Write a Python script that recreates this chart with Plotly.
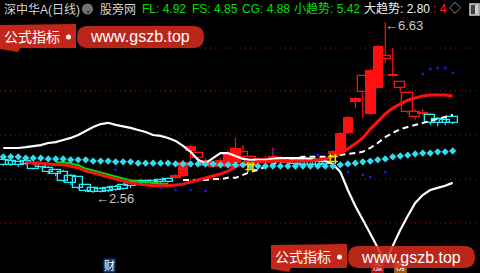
import plotly.graph_objects as go

W, H = 480, 273
FONT = "Liberation Sans, Noto Sans CJK SC, sans-serif"

# ---------------- data ----------------
bars = list(range(61))
opens = [3.35, 3.32, 3.30, 3.32, 3.27, 3.25, 3.16, 3.11, 3.06, 2.96, 2.94, 2.75, 2.68, 2.66, 2.68, 2.70,
         2.75, 2.82, 2.85, 2.85, 2.85, 2.87, 2.89, 2.92, 2.96, 3.56, 3.39, 3.20, 3.18, 3.23, 3.18, 3.27,
         3.42, 3.30, 3.27, 3.30, 3.35, 3.30, 3.27, 3.35, 3.35, 3.32, 3.30, 3.30, 3.49, 3.54, 3.99, 4.73,
         4.96, 4.44, 5.06, 5.75, 5.34, 5.06, 4.49, 4.37, 4.44, 4.42, 4.32, 4.30, 4.37]
highs = [3.37, 3.35, 3.32, 3.35, 3.30, 3.27, 3.20, 3.13, 3.11, 3.01, 2.96, 2.77, 2.70, 2.70, 2.73, 2.75,
         2.77, 2.85, 2.87, 2.87, 2.87, 2.89, 2.92, 3.01, 3.35, 3.70, 3.54, 3.39, 3.32, 3.39, 3.58, 3.87,
         3.70, 3.46, 3.42, 3.44, 3.65, 3.44, 3.37, 3.37, 3.39, 3.35, 3.32, 3.32, 3.58, 4.01, 4.39, 4.84,
         5.36, 5.51, 6.08, 6.63, 6.01, 5.22, 4.96, 4.56, 4.56, 4.46, 4.37, 4.34, 4.42]
lows = [3.20, 3.20, 3.18, 3.23, 3.11, 3.16, 3.01, 2.96, 2.82, 2.75, 2.66, 2.58, 2.56, 2.57, 2.58, 2.61,
        2.63, 2.68, 2.75, 2.77, 2.77, 2.80, 2.80, 2.89, 2.94, 3.35, 3.27, 3.18, 3.16, 3.20, 3.16, 3.25,
        3.35, 3.27, 3.25, 3.27, 3.30, 3.27, 3.25, 3.23, 3.20, 3.20, 3.20, 3.23, 3.44, 3.51, 3.96, 4.58,
        4.34, 4.42, 5.04, 5.65, 5.32, 4.96, 4.46, 4.30, 4.39, 4.18, 4.15, 4.18, 4.20]
closes = [3.23, 3.23, 3.23, 3.25, 3.13, 3.18, 3.06, 3.01, 2.85, 2.80, 2.68, 2.61, 2.58, 2.58, 2.61, 2.63,
          2.66, 2.73, 2.77, 2.80, 2.80, 2.82, 2.82, 2.99, 3.30, 3.68, 3.51, 3.35, 3.27, 3.35, 3.51, 3.63,
          3.54, 3.42, 3.39, 3.39, 3.44, 3.39, 3.35, 3.25, 3.23, 3.23, 3.23, 3.25, 3.56, 3.99, 4.37, 4.82,
          5.34, 5.49, 6.06, 5.82, 5.39, 5.20, 4.94, 4.49, 4.49, 4.23, 4.23, 4.23, 4.23]
# c = cyan hollow, r = red filled, h = red hollow
kinds = (["c"] * 23 + ["r", "r", "r", "h", "r", "r", "r", "r", "r", "h", "h", "r", "r", "r", "r", "r"]
         + ["c"] * 5 + ["r", "r", "r", "r", "h", "r", "r", "h", "r", "h", "h", "h", "r"] + ["c"] * 4)

red_ma = [None, None, None, 3.30, 3.27, 3.27, 3.25, 3.23, 3.23, 3.20, 3.16, 3.08, 3.04, 2.99, 2.94, 2.89,
          2.85, 2.80, 2.77, 2.75, 2.73, 2.73, 2.73, 2.75, 2.77, 2.82, 2.87, 2.92, 2.96, 3.01, 3.08, 3.18,
          3.25, 3.27, 3.30, 3.30, 3.32, 3.32, 3.32, 3.32, 3.32, 3.32, 3.35, 3.37, 3.42, 3.51, 3.61, 3.73,
          3.87, 4.08, 4.27, 4.44, 4.58, 4.68, 4.77, 4.82, 4.87, 4.89, 4.89, 4.89, 4.87]
green_ma = [None] * 7 + [3.29, 3.29, 3.26, 3.22, 3.14, 3.10, 3.05, 3.00, 2.95, 2.91, 2.86, 2.83, 2.81,
                        2.79, 2.78, 2.78] + [None] * 38
big_trend = [3.63, 3.63, 3.63, 3.65, 3.68, 3.70, 3.75, 3.77, 3.82, 3.87, 3.94, 4.04, 4.13, 4.20, 4.23, 4.18,
             4.15, 4.11, 4.06, 4.01, 3.94, 3.92, 3.87, 3.80, 3.68, 3.54, 3.35, 3.27, 3.39, 3.51, 3.51, 3.44,
             3.37, 3.35, 3.35, 3.35, 3.37, 3.39, 3.39, 3.39, 3.39, 3.37, 3.35, 3.32, 3.25, 3.06, 2.63, 2.25,
             1.92, 1.58, 1.25, 0.92, 1.30, 1.68, 2.01, 2.32, 2.51, 2.63, 2.68, 2.73, 2.80]
stair = [None] * 24 + [2.87, 2.87, 2.87, 2.87, 2.89, 2.89, 2.92, 2.92, 2.99, 3.06, 3.11, 3.18, 3.25, 3.30,
                       3.35, 3.39, 3.42, 3.42, 3.42, 3.42, 3.44, 3.46, 3.49, 3.51, 3.54, 3.63, 3.75, 3.89,
                       3.99, 4.08, 4.13, 4.18, 4.23, 4.27, 4.32, 4.37, 4.42]
diamonds = ([3.42] * 3 + [3.39] * 3 + [3.37] * 3 + [3.35] * 3 + [3.32] * 3 + [3.30] * 3 + [3.27] * 5
            + [3.25] * 6 + [3.23] * 4 + [3.20] * 12
            + [3.23, 3.25, 3.27, 3.30, 3.32, 3.35, 3.37, 3.42, 3.44, 3.46, 3.49, 3.51, 3.51, 3.54, 3.54, 3.56])
blue_x = [15, 21, 23, 25, 27, 36, 42, 46, 48, 49, 51, 56, 57, 58, 59, 60]
blue_y = [3.11, 2.68, 2.63, 2.63, 2.61, 3.54, 3.46, 3.06, 2.99, 2.94, 3.06, 5.39, 5.51, 5.54, 5.54, 5.42]
signal_x = [33, 44]
signal_y = [3.18, 3.37]
grid_levels = [6.01, 4.99, 3.94, 2.89, 1.85]
event_x = [50, 53]
event_text = ["涨", "榜"]
event_colors = ["#c01010", "#b06010"]

header = [("深中华A(日线)", "#d4d4d4", 2), ("股旁网", "#d4d4d4", 98),
          ("FL: 4.92", "#00e000", 140), ("FS: 4.85", "#00e000", 190), ("CG: 4.88", "#00e000", 240),
          ("小趋势: 5.42", "#00e000", 292), ("大趋势: 2.80", "#f2f2f2", 362), (": 4", "#ff2020", 431),
          ("◇", "#b0b0b0", 447)]

RED = "#ff1010"
CYAN = "#22eef5"
Y0, Y1 = 0.654, 7.154
PX = (Y1 - Y0) / H  # price per pixel

fig = go.Figure()

def body(sel, fill, line, lw):
    xs = [i for i in bars if kinds[i] in sel]
    fig.add_trace(go.Bar(
        x=xs, base=[min(opens[i], closes[i]) for i in xs],
        y=[max(abs(closes[i] - opens[i]), 0.03) for i in xs],
        width=1.4, marker=dict(color=fill, line=dict(color=line, width=lw)),
        showlegend=False, hoverinfo="skip"))

body("r", RED, RED, 0)
body("h", "rgba(0,0,0,0)", RED, 1.3)
body("c", "rgba(0,0,0,0)", CYAN, 1.3)

# event label boxes at the bottom edge (under the watermark)
fig.add_trace(go.Bar(x=event_x, base=[Y0] * 2, y=[11 * PX] * 2, width=1.7,
                     marker=dict(color=event_colors, line=dict(width=0)), opacity=0.9,
                     showlegend=False, hoverinfo="skip"))

def wicks(sel, color):
    wx, wy = [], []
    for i in bars:
        if kinds[i] not in sel:
            continue
        top, bot = max(opens[i], closes[i]), min(opens[i], closes[i])
        wx += [i, i, None, i, i, None]
        wy += [highs[i], top, None, bot, lows[i], None]
    fig.add_trace(go.Scatter(x=wx, y=wy, mode="lines", line=dict(color=color, width=1.2),
                             showlegend=False, hoverinfo="skip"))

wicks("rh", RED)
wicks("c", CYAN)

fig.add_trace(go.Scatter(x=bars, y=big_trend, mode="lines", line=dict(color="#ffffff", width=2.2),
                         showlegend=False, hoverinfo="skip"))
fig.add_trace(go.Scatter(x=bars, y=stair, mode="lines", line=dict(color="#ffffff", width=2, dash="6px,4px"),
                         showlegend=False, hoverinfo="skip"))
fig.add_trace(go.Scatter(x=bars, y=green_ma, mode="lines", line=dict(color="#00d800", width=2),
                         showlegend=False, hoverinfo="skip"))
fig.add_trace(go.Scatter(x=bars, y=red_ma, mode="lines", line=dict(color=RED, width=3),
                         showlegend=False, hoverinfo="skip"))
fig.add_trace(go.Scatter(x=bars, y=diamonds, mode="markers",
                         marker=dict(symbol="diamond", size=5.6, color="#30dcf0", line=dict(width=0)),
                         showlegend=False, hoverinfo="skip"))
fig.add_trace(go.Scatter(x=blue_x, y=blue_y, mode="markers",
                         marker=dict(symbol="square", size=2.5, color="#1a1ad0"),
                         showlegend=False, hoverinfo="skip"))
fig.add_trace(go.Scatter(x=signal_x, y=signal_y, mode="markers",
                         marker=dict(symbol="hash-open", size=10, color="#f0e000",
                                     line=dict(width=1.5, color="#f0e000")),
                         showlegend=False, hoverinfo="skip"))
fig.add_trace(go.Scatter(x=event_x, y=[Y0 + 5.5 * PX] * 2, mode="text", text=event_text,
                         textfont=dict(family=FONT, size=10, color="#ffffff"),
                         showlegend=False, hoverinfo="skip"))

shapes = []
for lv in grid_levels:
    shapes.append(dict(type="line", xref="paper", x0=0, x1=1, yref="y", y0=lv, y1=lv,
                       line=dict(color="#a01818", width=1, dash="1px,4px"), layer="below"))

def P(x, y):
    return f"{x / W:.5f},{1 - y / H:.5f}"

def rrect(x0, y0, x1, y1, r):
    return (f"M{P(x0 + r, y0)} L{P(x1 - r, y0)} Q{P(x1, y0)} {P(x1, y0 + r)} L{P(x1, y1 - r)} "
            f"Q{P(x1, y1)} {P(x1 - r, y1)} L{P(x0 + r, y1)} Q{P(x0, y1)} {P(x0, y1 - r)} "
            f"L{P(x0, y0 + r)} Q{P(x0, y0)} {P(x0 + r, y0)} Z")

WM = "#d42a1c"
annotations = []

def watermark(bx, by):
    path = (f"M{P(bx, by)} L{P(bx + 76, by - 1)} L{P(bx + 76, by + 23)} L{P(bx + 20, by + 23)} "
            f"L{P(bx + 18, by + 27)} L{P(bx, by + 24)} Z")
    shapes.append(dict(type="path", xref="paper", yref="paper", path=path, fillcolor=WM,
                       line=dict(width=0), opacity=0.92, layer="above"))
    shapes.append(dict(type="path", xref="paper", yref="paper", path=rrect(bx + 77, by + 1, bx + 204, by + 23, 11),
                       fillcolor=WM, line=dict(width=0), opacity=0.88, layer="above"))
    shapes.append(dict(type="circle", xref="paper", yref="paper", x0=(bx + 66) / W, x1=(bx + 71) / W,
                       y0=1 - (by + 14.5) / H, y1=1 - (by + 9.5) / H, fillcolor="#ffffff",
                       line=dict(width=0), layer="above"))
    annotations.append(dict(xref="paper", yref="paper", x=(bx + 2) / W, y=1 - (by + 12) / H,
                            xanchor="left", yanchor="middle", showarrow=False, text="公式指标",
                            font=dict(family=FONT, size=14, color="#ffffff")))
    annotations.append(dict(xref="paper", yref="paper", x=(bx + 140) / W, y=1 - (by + 12) / H,
                            xanchor="center", yanchor="middle", showarrow=False, text="www.gszb.top",
                            font=dict(family="Liberation Sans, sans-serif", size=16, color="#ffffff")))

for txt, col, x in header:
    annotations.append(dict(xref="paper", yref="paper", x=x / W, y=1 - 9.5 / H, xanchor="left",
                            yanchor="middle", showarrow=False, text=txt,
                            font=dict(family=FONT, size=12, color=col)))
shapes.append(dict(type="circle", xref="paper", yref="paper", x0=82 / W, x1=93 / W, y0=1 - 14.5 / H,
                   y1=1 - 3.5 / H, fillcolor="#737373", line=dict(width=0)))
annotations.append(dict(xref="paper", yref="paper", x=87.5 / W, y=1 - 9.5 / H, xanchor="center",
                        yanchor="middle", showarrow=False, text="⌄",
                        font=dict(family="DejaVu Sans", size=10, color="#222222")))
shapes.append(dict(type="rect", xref="paper", yref="paper", x0=470 / W, x1=479 / W, y0=1 - 15 / H,
                   y1=1 - 4 / H, fillcolor="#404040", line=dict(color="#cfcfcf", width=1.5)))
shapes.append(dict(type="rect", xref="paper", yref="paper", x0=475 / W, x1=478 / W, y0=1 - 14 / H,
                   y1=1 - 5 / H, fillcolor="#cfcfcf", line=dict(width=0)))

annotations.append(dict(x=51, y=highs[51], xref="x", yref="y", xanchor="left", yanchor="middle",
                        xshift=-2, yshift=-3, showarrow=False, text="←6.63",
                        font=dict(family="Liberation Sans", size=13, color="#c8c8c8")))
annotations.append(dict(x=12, y=lows[12], xref="x", yref="y", xanchor="left", yanchor="middle",
                        xshift=1, yshift=-6, showarrow=False, text="←2.56",
                        font=dict(family="Liberation Sans", size=13, color="#c8c8c8")))

annotations.append(dict(xref="paper", yref="paper", x=109.5 / W, y=1 - 265.5 / H, xanchor="center",
                        yanchor="middle", showarrow=False, text="财", bgcolor="#1c3a70", borderpad=0,
                        font=dict(family=FONT, size=11, color="#ffffff")))

watermark(0, 25)
watermark(271, 245)

fig.update_layout(
    width=W, height=H, margin=dict(l=0, r=0, t=0, b=0),
    paper_bgcolor="#000000", plot_bgcolor="#000000", barmode="overlay", bargap=0,
    xaxis=dict(range=[-0.44, 63.65], visible=False, fixedrange=True),
    yaxis=dict(range=[Y0, Y1], visible=False, fixedrange=True),
    shapes=shapes, annotations=annotations, showlegend=False,
)

fig.write_html("out.html")
